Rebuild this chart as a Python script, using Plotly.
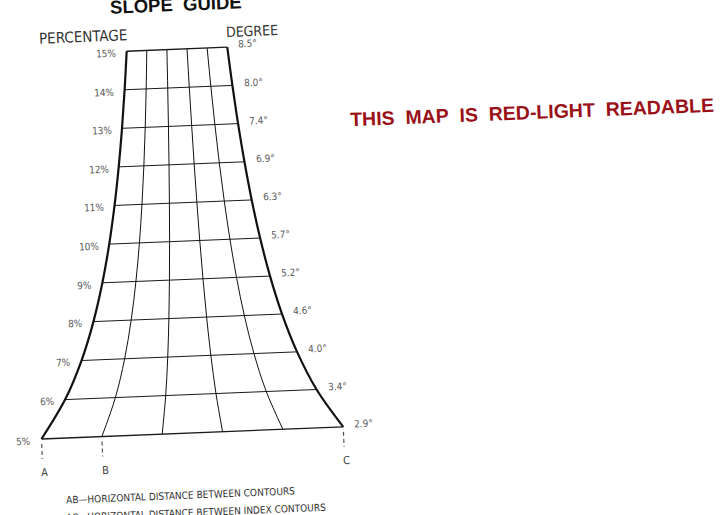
import math
import plotly.graph_objects as go

# ---- data ----
percent_levels = [15, 14, 13, 12, 11, 10, 9, 8, 7, 6, 5]
percent_labels = ["15%", "14%", "13%", "12%", "11%", "10%", "9%", "8%", "7%", "6%", "5%"]
degree_labels = ["8.5°", "8.0°", "7.4°", "6.9°", "6.3°", "5.7°", "5.2°", "4.6°", "4.0°", "3.4°", "2.9°"]
column_fractions = [0.0, 0.2, 0.4, 0.6, 0.8, 1.0]
point_labels = ["A", "B", "C"]
point_fractions = [0.0, 0.2, 1.0]
notes = ["AB—HORIZONTAL DISTANCE BETWEEN CONTOURS",
         "AC—HORIZONTAL DISTANCE BETWEEN INDEX CONTOURS"]
title_text = "SLOPE GUIDE"
left_head = "PERCENTAGE"
right_head = "DEGREE"
red_note = "THIS MAP IS RED-LIGHT READABLE"

# ---- layout geometry (pixel frame, y down) ----
CX = 192.5          # centre of guide (unrotated)
BASE_V = 439.0      # vertical position of the 5% row
ROW_H = 38.4        # spacing between percent rows
BASE_W = 302.0      # width at the 5 % row (AC)
BASE_S = 5.0
TILT = math.radians(2.3)
PX, PY = 41.0, 439.0

NARROW = "Liberation Sans Narrow, DejaVu Sans Condensed, Arial Narrow, Roboto Condensed, sans-serif"
BOLD = "Liberation Sans, Arial, Helvetica, sans-serif"


def rot(u, v):
    du, dv = u - PX, v - PY
    x = PX + du * math.cos(TILT) + dv * math.sin(TILT)
    y = PY - du * math.sin(TILT) + dv * math.cos(TILT)
    return x, y


def row_v(s):
    return BASE_V - (s - BASE_S) * ROW_H


def width(s):
    return BASE_W * BASE_S / s


def pt(s, f):
    return rot(CX + (f - 0.5) * width(s), row_v(s))


fig = go.Figure()

# horizontal rows
for i, s in enumerate(percent_levels):
    a = pt(s, 0.0)
    b = pt(s, 1.0)
    fig.add_trace(go.Scatter(x=[a[0], b[0]], y=[a[1], b[1]], mode="lines",
                             line=dict(color="#1a1a1a", width=1.3 if s in (5, 15) else 1.0),
                             hoverinfo="skip", showlegend=False))

# vertical columns (curved)
for f in column_fractions:
    pts = [pt(s, f) for s in percent_levels]
    edge = f in (0.0, 1.0)
    fig.add_trace(go.Scatter(x=[p[0] for p in pts], y=[p[1] for p in pts], mode="lines",
                             line=dict(color="#111111", width=2.2 if edge else 1.0,
                                       shape="spline", smoothing=1.0),
                             hoverinfo="skip", showlegend=False))

# dashed markers under A, B, C
for lab, f in zip(point_labels, point_fractions):
    u = CX + (f - 0.5) * width(BASE_S)
    a = rot(u, BASE_V + 5)
    b = rot(u, BASE_V + 20)
    fig.add_trace(go.Scatter(x=[a[0], b[0]], y=[a[1], b[1]], mode="lines",
                             line=dict(color="#555555", width=1.2, dash="4px,3px"),
                             hoverinfo="skip", showlegend=False))

annotations = []
angle = -math.degrees(TILT)

for s, lp, ld in zip(percent_levels, percent_labels, degree_labels):
    v = row_v(s)
    lx, ly = rot(CX - width(s) / 2 - 8, v + 2)
    annotations.append(dict(x=lx, y=ly, text=lp, xanchor="right", yanchor="middle",
                            showarrow=False, textangle=angle,
                            font=dict(family=NARROW, size=10, color="#5a5a5a")))
    rx, ry = rot(CX + width(s) / 2 + 9, v - 3)
    annotations.append(dict(x=rx, y=ry, text=ld, xanchor="left", yanchor="middle",
                            showarrow=False, textangle=angle,
                            font=dict(family=NARROW, size=10, color="#5a5a5a")))

for lab, f in zip(point_labels, point_fractions):
    u = CX + (f - 0.5) * width(BASE_S)
    x, y = rot(u + 2, BASE_V + 34)
    annotations.append(dict(x=x, y=y, text=lab, xanchor="center", yanchor="middle",
                            showarrow=False, textangle=angle,
                            font=dict(family=NARROW, size=11, color="#444444")))

annotations += [
    dict(x=176, y=4, text="<b>" + title_text.replace(" ", "&nbsp; ") + "</b>",
         showarrow=False, textangle=angle, xanchor="center", yanchor="middle",
         font=dict(family=BOLD, size=18.5, color="#111111")),
    dict(x=83, y=37, text=left_head, showarrow=False, textangle=angle,
         xanchor="center", yanchor="middle",
         font=dict(family=NARROW, size=15, color="#333333")),
    dict(x=252, y=31, text=right_head, showarrow=False, textangle=angle,
         xanchor="center", yanchor="middle",
         font=dict(family=NARROW, size=14, color="#333333")),
    dict(x=532, y=112, text="<b>" + red_note.replace(" ", "&nbsp; ") + "</b>",
         showarrow=False, textangle=angle, xanchor="center", yanchor="middle",
         font=dict(family=BOLD, size=19.5, color="#9a1118")),
    dict(x=180, y=495, text=notes[0], showarrow=False, textangle=angle,
         xanchor="center", yanchor="middle",
         font=dict(family=NARROW, size=10, color="#333333")),
    dict(x=196, y=512, text=notes[1], showarrow=False, textangle=angle,
         xanchor="center", yanchor="middle",
         font=dict(family=NARROW, size=10, color="#333333")),
]

fig.update_layout(
    width=725, height=515,
    margin=dict(l=0, r=0, t=0, b=0),
    paper_bgcolor="white", plot_bgcolor="white",
    xaxis=dict(range=[0, 725], visible=False, fixedrange=True),
    yaxis=dict(range=[515, 0], visible=False, fixedrange=True),
    annotations=annotations,
    showlegend=False,
)

fig.write_html("out.html", config={"displayModeBar": False},
               post_script="document.body.style.margin='0';document.body.style.overflow='hidden';")
